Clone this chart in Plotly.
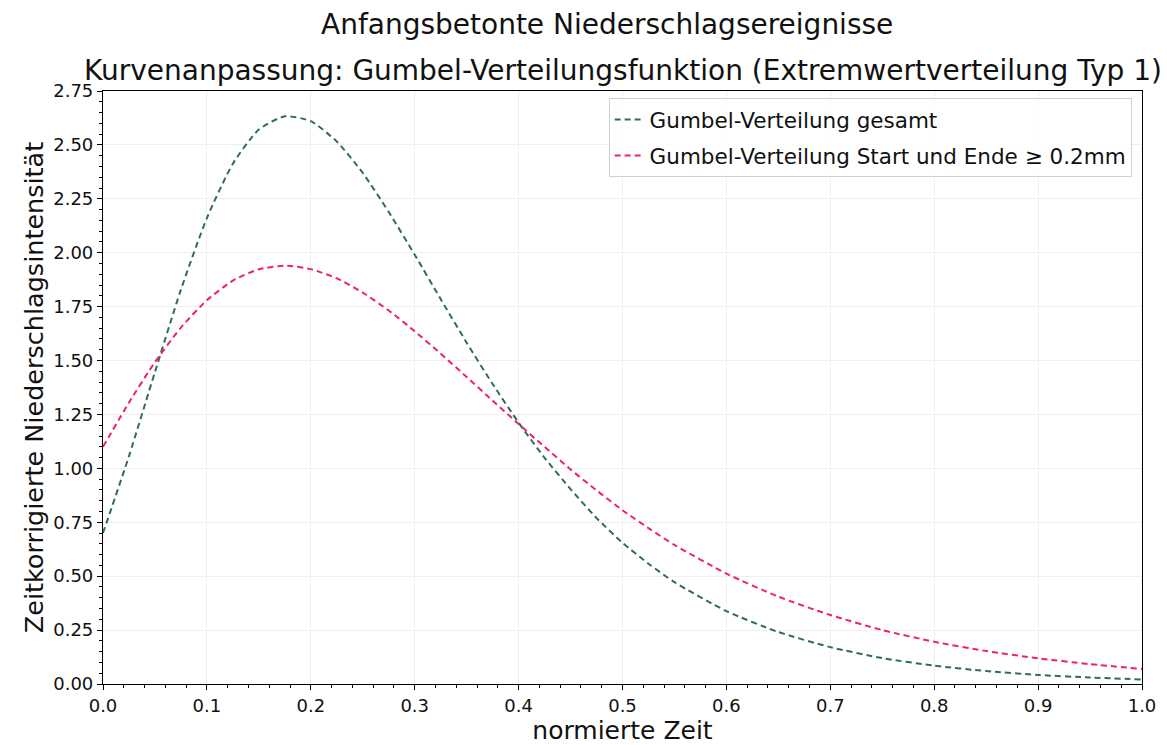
import plotly.graph_objects as go

x_green = [0.0, 0.025, 0.05, 0.075, 0.10, 0.125, 0.15, 0.175, 0.20, 0.225, 0.25, 0.275,
           0.30, 0.325, 0.35, 0.375, 0.40, 0.425, 0.45, 0.475, 0.50, 0.525,
           0.55, 0.60, 0.65, 0.70, 0.75, 0.80, 0.85, 0.90, 0.95, 1.00]
gesamt = [0.70, 1.057, 1.447, 1.829, 2.161, 2.413, 2.571, 2.633, 2.610, 2.516, 2.370, 2.189,
          1.991, 1.785, 1.583, 1.391, 1.212, 1.049, 0.904, 0.770, 0.655, 0.558,
          0.472, 0.338, 0.241, 0.171, 0.120, 0.085, 0.060, 0.042, 0.030, 0.021]
x_red = [0.0, 0.025, 0.05, 0.075, 0.10, 0.125, 0.15, 0.175, 0.20, 0.225, 0.25, 0.275,
         0.30, 0.325, 0.35, 0.375, 0.40, 0.425, 0.45, 0.475, 0.50, 0.525,
         0.55, 0.60, 0.65, 0.70, 0.75, 0.80, 0.85, 0.90, 0.95, 1.00]
start_ende = [1.10, 1.305, 1.493, 1.653, 1.780, 1.871, 1.923, 1.940, 1.924, 1.881, 1.815, 1.732,
              1.636, 1.532, 1.424, 1.314, 1.206, 1.100, 0.995, 0.898, 0.806, 0.723,
              0.645, 0.512, 0.405, 0.320, 0.250, 0.196, 0.153, 0.119, 0.092, 0.070]

names = ["Gumbel-Verteilung gesamt", "Gumbel-Verteilung Start und Ende \u2265 0.2mm"]
title1 = "Anfangsbetonte Niederschlagsereignisse"
title2 = "Kurvenanpassung: Gumbel-Verteilungsfunktion (Extremwertverteilung Typ 1)"
x_title = "normierte Zeit"
y_title = "Zeitkorrigierte Niederschlagsintensität"
x_ticks = [0.0, 0.1, 0.2, 0.3, 0.4, 0.5, 0.6, 0.7, 0.8, 0.9, 1.0]
y_ticks = [0.0, 0.25, 0.5, 0.75, 1.0, 1.25, 1.5, 1.75, 2.0, 2.25, 2.5, 2.75]

FONT = "DejaVu Sans"

fig = go.Figure()
fig.add_trace(go.Scatter(x=x_green, y=gesamt, mode="lines", name=names[0], legendgroup="a",
                         line=dict(color="#2f6e55", width=2, dash="6px,4px", shape="spline", smoothing=0.6)))
fig.add_trace(go.Scatter(x=x_red, y=start_ende, mode="lines", name=names[1], legendgroup="b",
                         line=dict(color="#f0245a", width=2, dash="6px,4px", shape="spline", smoothing=0.6)))

axis_common = dict(showline=True, linecolor="black", linewidth=1.2, mirror=True,
                   ticks="outside", ticklen=5, tickcolor="black", tickwidth=1,
                   showgrid=True, gridcolor="#efefef", gridwidth=1, zeroline=False,
                   automargin=False,
                   tickfont=dict(family=FONT, size=18, color="#111"))

fig.update_xaxes(range=[0, 1], tickvals=x_ticks, ticktext=[f"{v:.1f}" for v in x_ticks],
                 minor=dict(ticks="outside", ticklen=3, dtick=0.02, tickcolor="black", showgrid=False),
                 title=dict(text=x_title, font=dict(family=FONT, size=25, color="#111"), standoff=4),
                 **axis_common)
fig.update_yaxes(range=[0, 2.75], tickvals=y_ticks, ticktext=[f"{v:.2f}" for v in y_ticks],
                 minor=dict(ticks="outside", ticklen=3, dtick=0.05, tickcolor="black", showgrid=False),
                 title=dict(text=y_title, font=dict(family=FONT, size=25.5, color="#111"), standoff=2),
                 **axis_common)

fig.add_annotation(text=title1, xref="paper", yref="paper", x=0.4855, y=1.0, yshift=67,
                   showarrow=False, xanchor="center", yanchor="middle",
                   font=dict(family=FONT, size=28, color="#111"))
fig.add_annotation(text=title2, xref="paper", yref="paper", x=0.5, y=1.0, yshift=21,
                   showarrow=False, xanchor="center", yanchor="middle",
                   font=dict(family=FONT, size=28, color="#111"))

fig.update_layout(
    width=1167, height=745,
    margin=dict(l=103, r=25, t=91, b=61),
    paper_bgcolor="white", plot_bgcolor="white",
    showlegend=True,
    legend=dict(x=0.99, y=0.988, xanchor="right", yanchor="top",
                bgcolor="rgba(255,255,255,0.8)", bordercolor="#d0d0d0", borderwidth=1,
                font=dict(family=FONT, size=21.5, color="#111"), tracegroupgap=5),
    font=dict(family=FONT),
)

fig.write_html("out.html")
